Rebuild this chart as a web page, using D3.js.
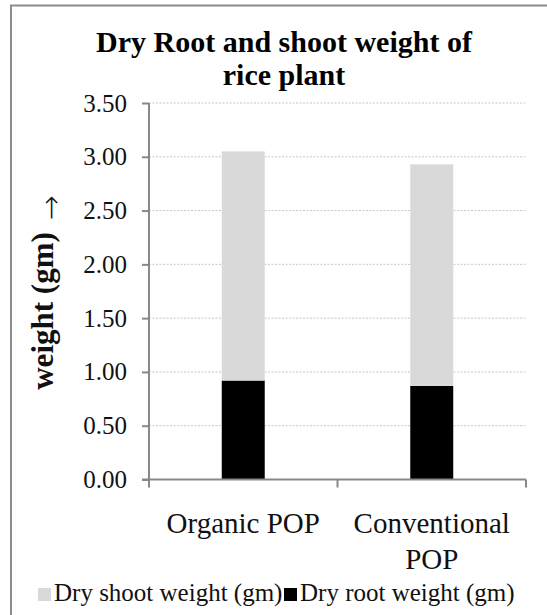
<!DOCTYPE html>
<html>
<head>
<meta charset="utf-8">
<script src="https://cdn.jsdelivr.net/npm/d3@7"></script>
<style>
  body { margin: 0; background: #fff; }
  svg { display: block; font-family: "Liberation Serif", "Times New Roman", serif; }
</style>
</head>
<body>
<svg class="chart-rice" width="547" height="615"></svg>
<script>
var categories = ["Organic POP", "Conventional POP"];
var categoryLines = [["Organic POP"], ["Conventional", "POP"]];
var rootWeight = [0.92, 0.87];
var shootWeight = [2.13, 2.06];
var yTicks = [0, 0.5, 1, 1.5, 2, 2.5, 3, 3.5];
var seriesNames = ["Dry shoot weight (gm)", "Dry root weight (gm)"];

var plot = { left: 149, right: 526, top: 103, bottom: 479.5 };
var colors = { shoot: "#d9d9d9", root: "#000000", axis: "#888888", grid: "#c8c8c8" };

var svg = d3.select("svg.chart-rice");

// outer chart frame (runs off the right/bottom of the page like the original)
svg.append("rect")
   .attr("x", 11).attr("y", 5.5)
   .attr("width", 560).attr("height", 630)
   .attr("fill", "#fff")
   .attr("stroke", "#8c8c8c")
   .attr("stroke-width", 2);

var y = d3.scaleLinear().domain([0, 3.5]).range([plot.bottom, plot.top]);
var x = d3.scaleBand().domain(categories).range([plot.left, plot.right]);
var barW = x.bandwidth() * 0.228;

// title
svg.append("text")
   .attr("x", 284).attr("y", 52)
   .attr("text-anchor", "middle")
   .attr("font-weight", "bold")
   .attr("font-size", 30)
   .selectAll("tspan")
   .data(["Dry Root and shoot weight of", "rice plant"])
   .enter().append("tspan")
   .attr("x", 284)
   .attr("dy", function (d, i) { return i == 0 ? 0 : 33; })
   .text(function (d) { return d; });

// gridlines
svg.append("g")
   .selectAll("line")
   .data(yTicks.filter(function (d) { return d > 0; }))
   .enter().append("line")
   .attr("x1", plot.left).attr("x2", plot.right)
   .attr("y1", function (d) { return y(d); })
   .attr("y2", function (d) { return y(d); })
   .attr("stroke", colors.grid)
   .attr("stroke-width", 1)
   .attr("stroke-dasharray", "2,1.5");

// stacked bars: root on the bottom, shoot on top
var rows = categories.map(function (c, i) {
    return { cat: c, root: rootWeight[i], shoot: shootWeight[i] };
});
var stacked = d3.stack().keys(["root", "shoot"])(rows);

svg.append("g")
   .selectAll("g")
   .data(stacked)
   .enter().append("g")
   .attr("fill", function (s) { return colors[s.key]; })
   .selectAll("rect")
   .data(function (s) { return s; })
   .enter().append("rect")
   .attr("x", function (d) { return x(d.data.cat) + (x.bandwidth() - barW) / 2; })
   .attr("width", barW)
   .attr("y", function (d) { return y(d[1]); })
   .attr("height", function (d) { return y(d[0]) - y(d[1]); });

// y axis
var yAxis = svg.append("g")
   .attr("transform", "translate(" + plot.left + ",0)")
   .call(d3.axisLeft(y).tickValues(yTicks).tickFormat(d3.format(".2f")).tickSize(7).tickPadding(15));
yAxis.select(".domain").attr("stroke", colors.axis).attr("stroke-width", 2)
     .attr("d", "M0," + plot.top + "V" + plot.bottom);
yAxis.selectAll(".tick line").attr("stroke", colors.axis).attr("stroke-width", 2);
yAxis.selectAll(".tick text")
     .attr("font-family", "Liberation Serif, serif")
     .attr("font-size", 25)
     .attr("fill", "#111");

// x axis line and boundary ticks
var xg = svg.append("g");
xg.append("line")
  .attr("x1", plot.left - 7).attr("x2", plot.right)
  .attr("y1", plot.bottom).attr("y2", plot.bottom)
  .attr("stroke", colors.axis).attr("stroke-width", 2);
xg.selectAll("line.xtick")
  .data(categories.map(function (c) { return x(c); }).concat([plot.right]))
  .enter().append("line")
  .attr("class", "xtick")
  .attr("x1", function (d) { return d; }).attr("x2", function (d) { return d; })
  .attr("y1", plot.bottom).attr("y2", plot.bottom + 8)
  .attr("stroke", colors.axis).attr("stroke-width", 2);

xg.selectAll("text.xlabel")
  .data(categories)
  .enter().append("text")
  .attr("class", "xlabel")
  .attr("text-anchor", "middle")
  .attr("font-size", 29)
  .attr("fill", "#111")
  .each(function (c, i) {
      var cx = x(c) + x.bandwidth() / 2;
      d3.select(this).selectAll("tspan")
        .data(categoryLines[i])
        .enter().append("tspan")
        .attr("x", cx)
        .attr("y", function (d, j) { return 533 + j * 35.5; })
        .text(function (d) { return d; });
  });

// y axis title, arrow drawn as its own glyph so it can be sized like the original
svg.append("text")
   .attr("transform", "translate(53,311) rotate(-90)")
   .attr("text-anchor", "middle")
   .attr("font-size", 31)
   .attr("font-weight", "bold")
   .attr("fill", "#111")
   .text("weight (gm)");
svg.append("text")
   .attr("transform", "translate(50,208) rotate(-90)")
   .attr("text-anchor", "middle")
   .attr("dominant-baseline", "central")
   .attr("font-family", "DejaVu Sans, sans-serif")
   .attr("font-size", 30)
   .attr("font-weight", "200")
   .attr("fill", "#111")
   .text("\u2192");

// legend
var legendItems = [
    { name: seriesNames[0], color: colors.shoot, x: 38 },
    { name: seriesNames[1], color: colors.root, x: 284 }
];
var lg = svg.append("g").selectAll("g")
   .data(legendItems)
   .enter().append("g")
   .attr("transform", function (d) { return "translate(" + d.x + ",0)"; });
lg.append("rect")
  .attr("x", 0).attr("y", 588)
  .attr("width", 13).attr("height", 13)
  .attr("fill", function (d) { return d.color; });
lg.append("text")
  .attr("x", 16).attr("y", 601)
  .attr("font-size", 25)
  .attr("fill", "#111")
  .text(function (d) { return d.name; });
</script>
</body>
</html>
